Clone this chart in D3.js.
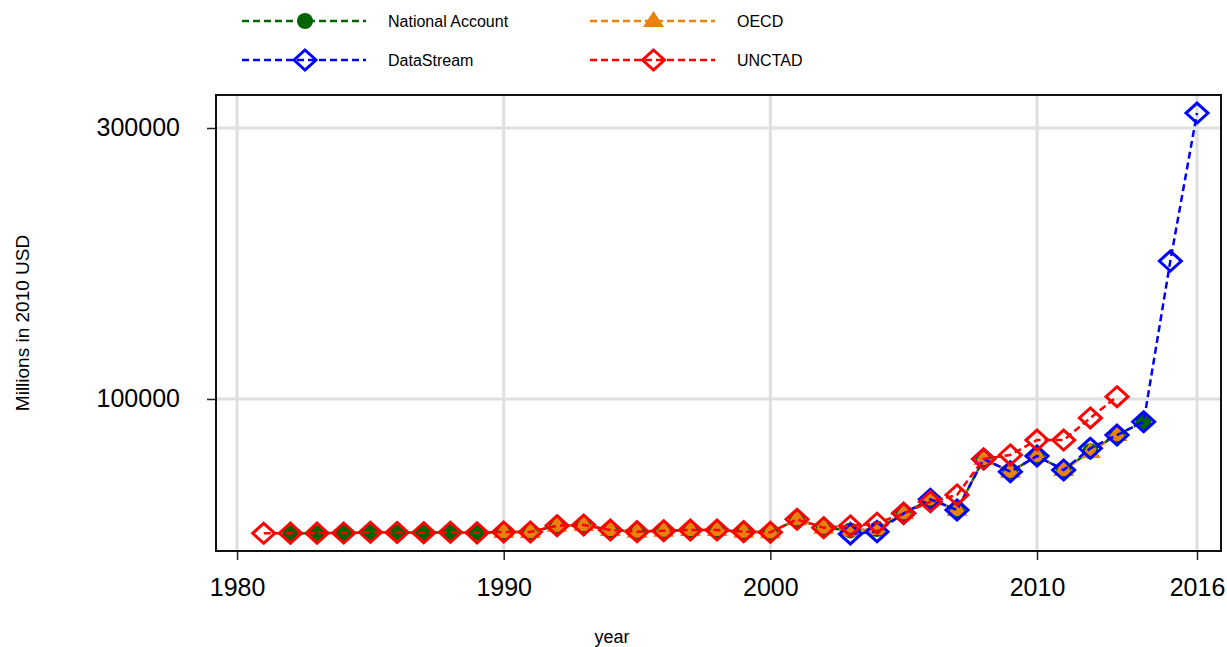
<!DOCTYPE html>
<html>
<head>
<meta charset="utf-8">
<script src="https://cdn.jsdelivr.net/npm/d3@7"></script>
<style>
  body { margin: 0; background: #fff; }
  svg { display: block; font-family: Arial, "Liberation Sans", sans-serif; }
</style>
</head>
<body>
<svg id="chart" width="1227" height="647"></svg>
<script>
var width = 1227;
var height = 647;
var plot = { left: 216, right: 1221, top: 95, bottom: 551 };

// values in millions of 2010 USD
var naYears = d3.range(1982, 2015);
var naValues = [1000, 1000, 1100, 1600, 1500, 1300, 1600, 1200,
    1850, 1850, 6500, 7000, 3300, 2100, 2800, 3300, 3300, 2100, 1600,
    11200, 5000, 3000, 4000, 15600, 26000, 18100, 55700, 46300, 57900,
    47600, 61500, 73400, 83200];

var oecdYears = d3.range(1990, 2014);
var oecdValues = [1850, 1850, 6500, 7000, 3300, 2100, 2800, 3300, 3300,
    2100, 1600, 11200, 5000, 3000, 4000, 15600, 26000, 18100, 55700,
    46300, 57900, 47600, 60900, 73400];

var dsYears = d3.range(2003, 2017);
var dsValues = [400, 2100, 15600, 26000, 18100, 55700, 46300, 57900,
    47600, 63600, 73400, 83200, 201800, 311000];

var unYears = d3.range(1981, 2014);
var unValues = [900, 1000, 1000, 1100, 1600, 1500, 1300, 1600, 1200,
    1850, 1850, 6500, 7000, 3300, 2100, 2800, 3300, 3300, 2100, 1600,
    11200, 5000, 6300, 8300, 15600, 24200, 29200, 55700, 58700, 69700,
    69700, 86000, 101700];

var xTicks = [1980, 1990, 2000, 2010, 2016];
var yTicks = [100000, 300000];

var series = [
    { name: "National Account", years: naYears, values: naValues, color: "#006400", marker: "circle" },
    { name: "OECD", years: oecdYears, values: oecdValues, color: "#e8820c", marker: "triangle" },
    { name: "DataStream", years: dsYears, values: dsValues, color: "#0000ff", marker: "diamond" },
    { name: "UNCTAD", years: unYears, values: unValues, color: "#ff0000", marker: "diamond" }
];

var x = d3.scaleLinear()
    .domain([1979.21, 2016.9])
    .range([plot.left, plot.right]);

var y = d3.scaleLinear()
    .domain([-12180, 324350])
    .range([plot.bottom, plot.top]);

var svg = d3.select("#chart");

// grid
svg.append("g").selectAll("line.vg")
    .data(xTicks).enter().append("line")
    .attr("x1", d => x(d)).attr("x2", d => x(d))
    .attr("y1", plot.top).attr("y2", plot.bottom)
    .attr("stroke", "#dfdfdf").attr("stroke-width", 3);

svg.append("g").selectAll("line.hg")
    .data(yTicks).enter().append("line")
    .attr("y1", d => y(d)).attr("y2", d => y(d))
    .attr("x1", plot.left).attr("x2", plot.right)
    .attr("stroke", "#dfdfdf").attr("stroke-width", 3);

// axes
var xAxis = svg.append("g")
    .attr("transform", "translate(0," + plot.bottom + ")")
    .call(d3.axisBottom(x).tickValues(xTicks).tickFormat(d3.format("d")).tickSize(9).tickPadding(18));
var yAxis = svg.append("g")
    .attr("transform", "translate(" + plot.left + ",0)")
    .call(d3.axisLeft(y).tickValues(yTicks).tickFormat(d3.format("d")).tickSize(9).tickPadding(27));

[xAxis, yAxis].forEach(function(a) {
    a.select(".domain").remove();
    a.selectAll(".tick line").attr("stroke", "#222").attr("stroke-width", 1.5);
    a.selectAll(".tick text").attr("fill", "#000").style("font-size", "25px")
        .style("font-family", "Arial, 'Liberation Sans', sans-serif");
});

// frame
svg.append("rect")
    .attr("x", plot.left).attr("y", plot.top)
    .attr("width", plot.right - plot.left).attr("height", plot.bottom - plot.top)
    .attr("fill", "none").attr("stroke", "#111").attr("stroke-width", 2);

// axis titles
svg.append("text")
    .attr("transform", "translate(29," + ((plot.top + plot.bottom) / 2) + ") rotate(-90)")
    .attr("text-anchor", "middle")
    .style("font-size", "19px")
    .text("Millions in 2010 USD");

svg.append("text")
    .attr("x", 612)
    .attr("y", 643)
    .attr("text-anchor", "middle")
    .style("font-size", "18px")
    .text("year");

function drawMarker(g, type, color) {
    if (type === "circle") {
        g.append("circle").attr("r", 8).attr("fill", color);
    } else if (type === "triangle") {
        g.append("path").attr("d", "M0,-10L10.5,6L-10.5,6Z").attr("fill", color);
    } else {
        g.append("path").attr("d", "M0,-10L11,0L0,10L-11,0Z")
            .attr("fill", "none").attr("stroke", color).attr("stroke-width", 3);
    }
}

var line = d3.line()
    .x(d => x(d[0]))
    .y(d => y(d[1]));

// series, drawn in legend order
series.forEach(function(s) {
    var pts = s.years.map((yr, i) => [yr, s.values[i]]);
    var g = svg.append("g");
    g.append("path")
        .datum(pts)
        .attr("d", line)
        .attr("fill", "none")
        .attr("stroke", s.color)
        .attr("stroke-width", 2.5)
        .attr("stroke-dasharray", "7,4");
    g.selectAll("g.pt")
        .data(pts).enter().append("g")
        .attr("transform", d => "translate(" + x(d[0]) + "," + y(d[1]) + ")")
        .each(function() { drawMarker(d3.select(this), s.marker, s.color); });
});

// legend
var legendPos = [
    { x0: 242, x1: 366, tx: 388, y: 21 },
    { x0: 590, x1: 715, tx: 737, y: 21 },
    { x0: 242, x1: 366, tx: 388, y: 60 },
    { x0: 590, x1: 715, tx: 737, y: 60 }
];
series.forEach(function(s, i) {
    var p = legendPos[i];
    var g = svg.append("g");
    g.append("line")
        .attr("x1", p.x0).attr("x2", p.x1)
        .attr("y1", p.y).attr("y2", p.y)
        .attr("stroke", s.color).attr("stroke-width", 2.5)
        .attr("stroke-dasharray", "7,4");
    var m = g.append("g").attr("transform", "translate(" + ((p.x0 + p.x1) / 2 + 1) + "," + p.y + ")");
    drawMarker(m, s.marker, s.color);
    g.append("text")
        .attr("x", p.tx).attr("y", p.y + 6)
        .style("font-size", "16px")
        .text(s.name);
});
</script>
</body>
</html>
